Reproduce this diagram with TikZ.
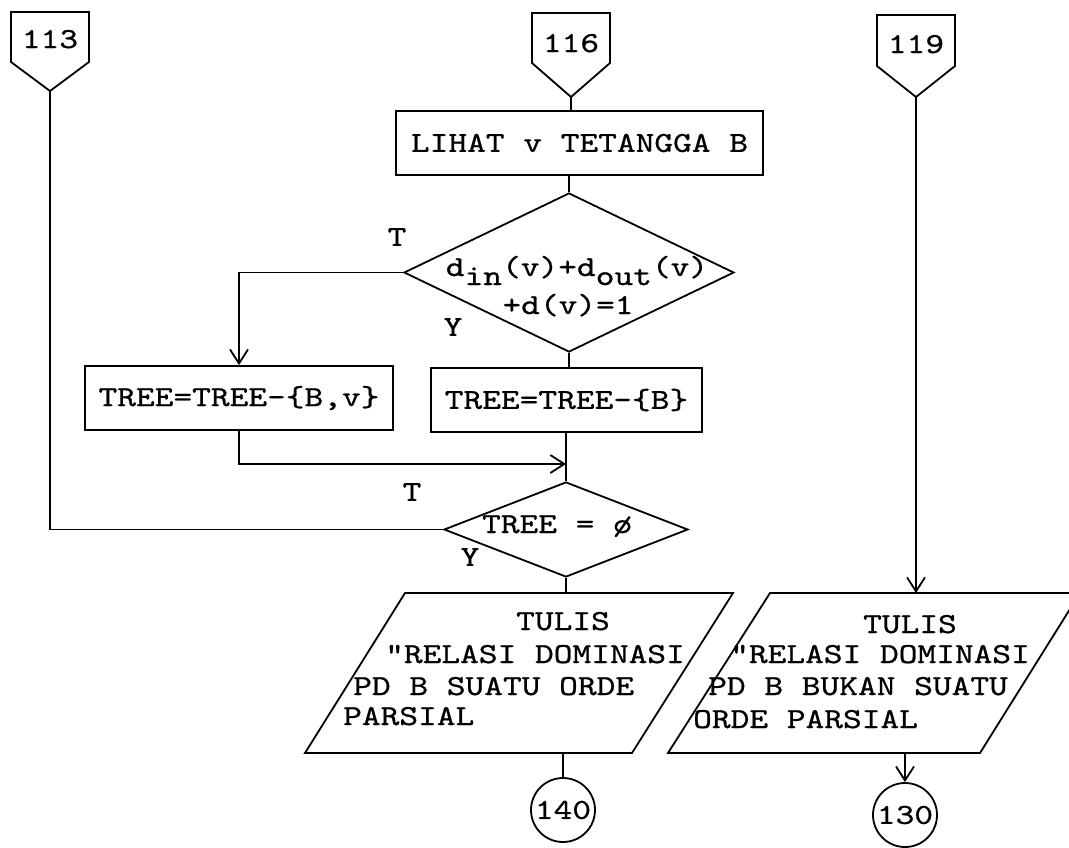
\documentclass[tikz,border=0pt]{standalone}
\usepackage{fontspec}
\usetikzlibrary{arrows.meta,shapes.geometric}
\newfontfamily\twfam{lmmono10-regular.otf}[FakeStretch=1.23,FakeBold=0.8,Ligatures=TeXOff]
\newcommand\tw{\twfam\fontsize{29pt}{31pt}\selectfont}
\tikzset{
  ln/.style={line width=1.8pt},
  box/.style={draw, line width=1.8pt, minimum height=64pt, inner sep=0pt, font=\tw},
  dec/.style={draw, diamond, line width=1.8pt, inner sep=0pt},
  conn/.style={draw, circle, line width=1.8pt, minimum size=64pt, inner sep=0pt, font=\tw},
  txt/.style={inner sep=0pt, font=\tw},
  arr/.style={-{Straight Barb[length=14pt,width=18pt]}},
}
\begin{document}
\begin{tikzpicture}[x=1pt,y=-1pt]
\fill[white] (0,0) rectangle (1069,847);
\useasboundingbox (0,0) rectangle (1069,847);

% off-page connectors
\draw[ln] (11,12) -- (89,12) -- (89,62) -- (50,91) -- (11,62) -- cycle;
\coordinate (t113) at (50,91);
\node[txt, anchor=base] (n113) at (50,48) {113};
\draw[ln] (532,13) -- (610,13) -- (610,63) -- (571,97) -- (532,63) -- cycle;
\coordinate (t116) at (571,97);
\node[txt, anchor=base] (n116) at (571,52) {116};
\draw[ln] (877,15) -- (955,15) -- (955,66) -- (916,97) -- (877,66) -- cycle;
\coordinate (t119) at (916,97);
\node[txt, anchor=base] (n119) at (916,53) {119};

% process boxes
\node[box, minimum width=367pt] (b1) at (579.5,143) {LIHAT v TETANGGA B};
\node[box, minimum width=308pt] (b2) at (239,398) {TREE=TREE-\{B,v\}};
\node[box, minimum width=271pt] (b3) at (566.5,400) {TREE=TREE-\{B\}};

% decision 1
\node[dec, minimum width=330pt, minimum height=159pt] (d1) at (569,272.5) {};
\node[txt, anchor=base] (d1a) at (577,276) {d\raisebox{-9pt}{in}(v)+d\raisebox{-9pt}{out}(v)};
\node[txt, anchor=base] (d1b) at (568,314) {+d(v)=1};
\node[txt] (lT1) at (397,237) {T};
\node[txt] (lY1) at (453,327) {Y};

% decision 2
\coordinate (j) at (566,464);
\node[dec, minimum width=244pt, minimum height=95pt] (d2) at (566,529.5) {};
\node[txt, anchor=base] (d2t) at (557,533) {TREE = ø};
\node[txt] (lT2) at (412,492) {T};
\node[txt] (lY2) at (470,557) {Y};

% output 1
\draw[ln] (405,593) -- (733,593) -- (632,753) -- (305,753) -- cycle;
\coordinate (p1t) at (566,593);
\coordinate (p1b) at (563,753);
\node[txt, anchor=base] (o1a) at (563,630) {TULIS};
\node[txt, anchor=base west] (o1b) at (385,663) {"RELASI DOMINASI};
\node[txt, anchor=base west] (o1c) at (353,695) {PD B SUATU ORDE};
\node[txt, anchor=base west] (o1d) at (343,725) {PARSIAL};
\node[conn] (c140) at (563,810) {140};

% output 2
\begin{scope}
\clip (0,0) rectangle (1069,847);
\draw[ln] (770,593) -- (1080,593) -- (980,753) -- (668,753) -- cycle;
\end{scope}
\coordinate (p2t) at (916,593);
\coordinate (p2b) at (905,753);
\node[txt, anchor=base] (o2a) at (910,633) {TULIS};
\node[txt, anchor=base west] (o2b) at (730,663) {"RELASI DOMINASI};
\node[txt, anchor=base west] (o2c) at (708,695) {PD B BUKAN SUATU};
\node[txt, anchor=base west] (o2d) at (693,728) {ORDE PARSIAL};
\node[conn] (c130) at (905,815) {130};

% connectors
\draw[ln] (t113) |- (d2.west);
\draw[ln] (t116) -- (t116 |- b1.north);
\draw[ln] (d1.north |- b1.south) -- (d1.north);
\draw[ln, arr] (d1.west) -| (b2.north);
\draw[ln] (d1.south) -- (d1.south |- b3.north);
\draw[ln, arr] (b2.south) |- (j);
\draw[ln] (b3.south -| j) -- (d2.north);
\draw[ln] (d2.south) -- (p1t);
\draw[ln] (p1b) -- (c140.north);
\draw[ln, arr] (t119) -- (p2t);
\draw[ln, arr] (p2b) -- (c130.north);
\end{tikzpicture}
\end{document}
